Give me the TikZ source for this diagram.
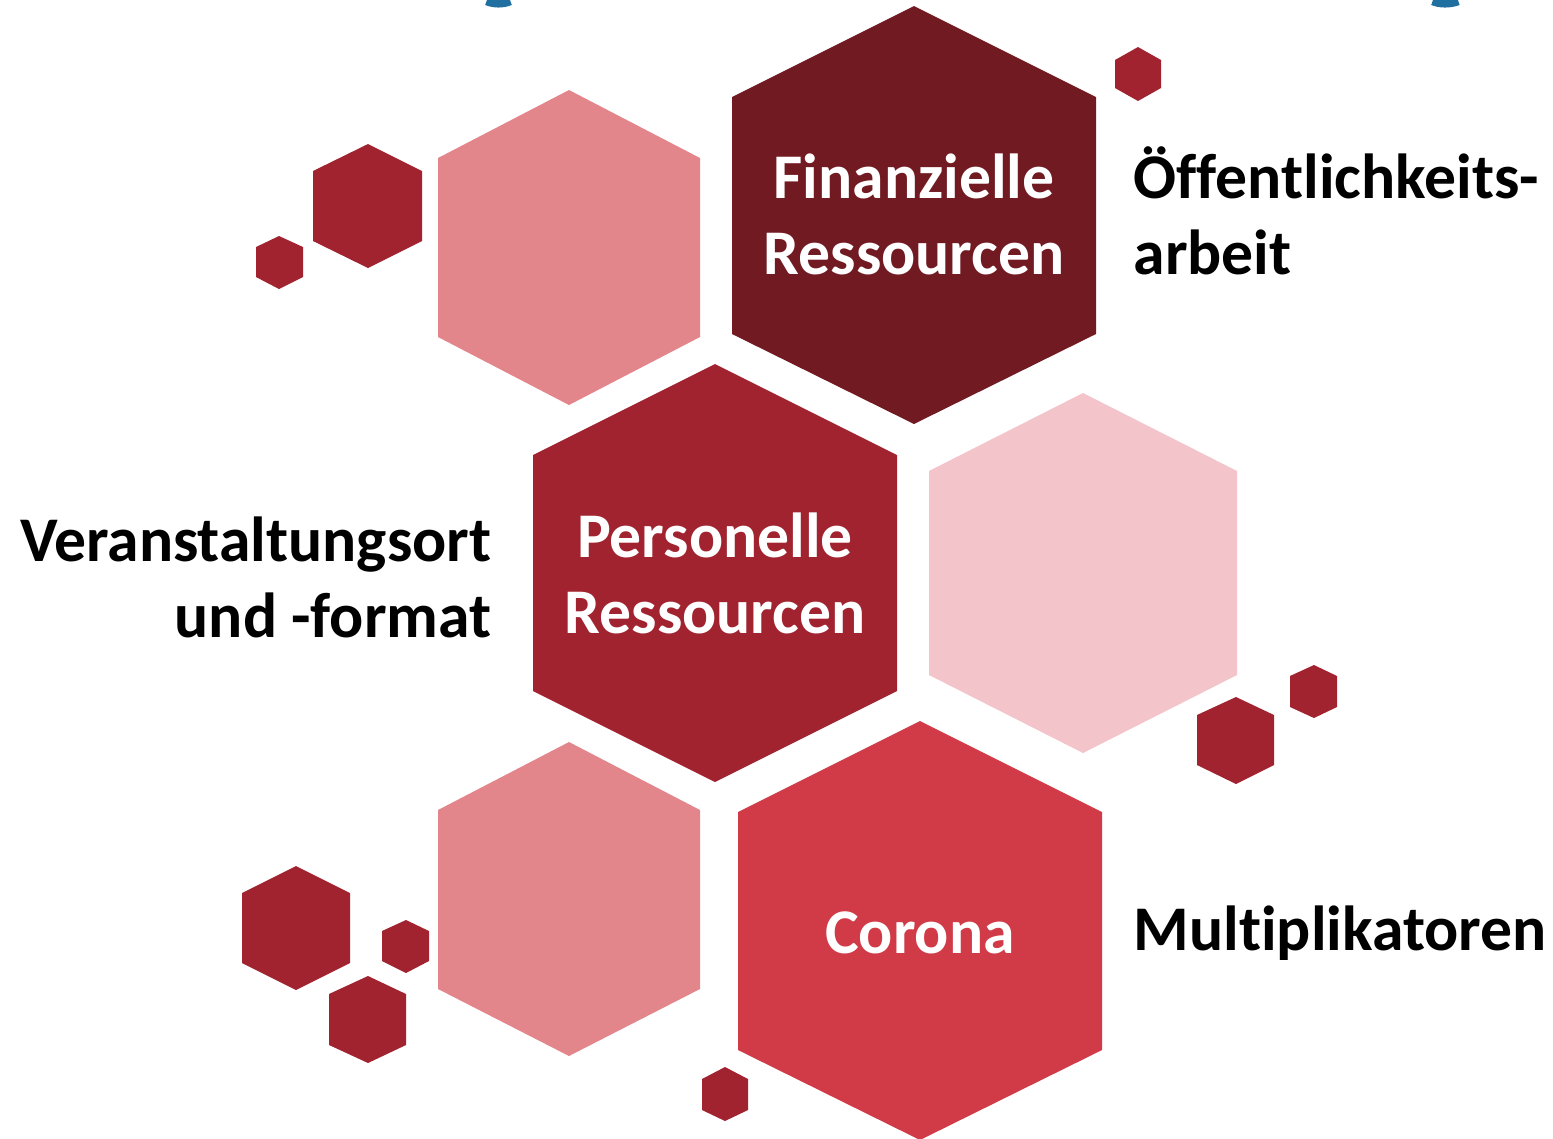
\documentclass[tikz,border=0pt]{standalone}
\usepackage{fontspec}
\setmainfont{Carlito}[Ligatures={CommonOff,RareOff}]
\definecolor{cdark}{HTML}{721A22}
\definecolor{cmid}{HTML}{A0232F}
\definecolor{ccor}{HTML}{D13A47}
\definecolor{cpink}{HTML}{E3868C}
\definecolor{clight}{HTML}{F3C5CB}
\definecolor{cblue}{HTML}{1F6FA0}
\tikzset{
  lbl/.style={font=\bfseries\fontsize{18.1}{21.6}\selectfont, inner sep=0pt},
  inlbl/.style={lbl, text=white, align=center},
  outlbl/.style={lbl, text=black}
}
\begin{document}
\begin{tikzpicture}[x=0.01cm,y=-0.01cm]
\useasboundingbox (0,0) rectangle (1553,1138);
% blue fragments at top
\draw[cblue, line width=3] (487,0) .. controls (494,3) and (503,3) .. (510,0);
\draw[cblue, line width=3] (1433,0) .. controls (1440,3) and (1450,3) .. (1458,0);
% large hexagons
\fill[cpink] (569,90) -- (700,158) -- (700,337) -- (569,405) -- (438,337) -- (438,158) -- cycle;
\fill[cdark] (914,6) -- (1096,97) -- (1096,334) -- (914,424) -- (732,334) -- (732,97) -- cycle;
\fill[cmid] (715,364) -- (897,455) -- (897,691) -- (715,782) -- (533,691) -- (533,455) -- cycle;
\fill[clight] (1083,393) -- (1237,471) -- (1237,675) -- (1083,753) -- (929,675) -- (929,471) -- cycle;
\fill[cpink] (569,742) -- (700,810) -- (700,989) -- (569,1056) -- (438,989) -- (438,810) -- cycle;
\fill[ccor] (920,721) -- (1102,812) -- (1102,1050) -- (920,1140) -- (738,1050) -- (738,812) -- cycle;
% small hexagons
\fill[cmid] (1138,47) -- (1161,60) -- (1161,88) -- (1138,101) -- (1115,88) -- (1115,60) -- cycle;
\fill[cmid] (368,144) -- (422,171) -- (422,241) -- (368,268) -- (313,241) -- (313,171) -- cycle;
\fill[cmid] (279,236) -- (303,247) -- (303,277) -- (279,289) -- (256,277) -- (256,247) -- cycle;
\fill[cmid] (1236,697) -- (1274,715) -- (1274,765) -- (1236,784) -- (1197,765) -- (1197,715) -- cycle;
\fill[cmid] (1314,665) -- (1337,676) -- (1337,707) -- (1314,718) -- (1290,707) -- (1290,676) -- cycle;
\fill[cmid] (296,866) -- (350,893) -- (350,963) -- (296,990) -- (242,963) -- (242,893) -- cycle;
\fill[cmid] (406,920) -- (429,931) -- (429,961) -- (406,973) -- (382,961) -- (382,931) -- cycle;
\fill[cmid] (368,976) -- (406,994) -- (406,1045) -- (368,1063) -- (329,1045) -- (329,994) -- cycle;
\fill[cmid] (725,1067) -- (748,1079) -- (748,1110) -- (725,1121) -- (702,1110) -- (702,1079) -- cycle;
% labels
\node[inlbl] (fin) at (914,214) {Finanzielle\\Ressourcen};
\node[inlbl] (pers) at (715,573) {Personelle\\Ressourcen};
\node[inlbl] (cor) at (920,933) {Corona};
\node[outlbl, anchor=west, align=left] (oeff) at (1133,211) {Öffentlichkeits-\\arbeit};
\node[outlbl, anchor=east, align=right] (ver) at (492,577) {Veranstaltungsort\\und -format};
\node[outlbl, anchor=west] (multi) at (1133,933) {Multiplikatoren};
\end{tikzpicture}
\end{document}
